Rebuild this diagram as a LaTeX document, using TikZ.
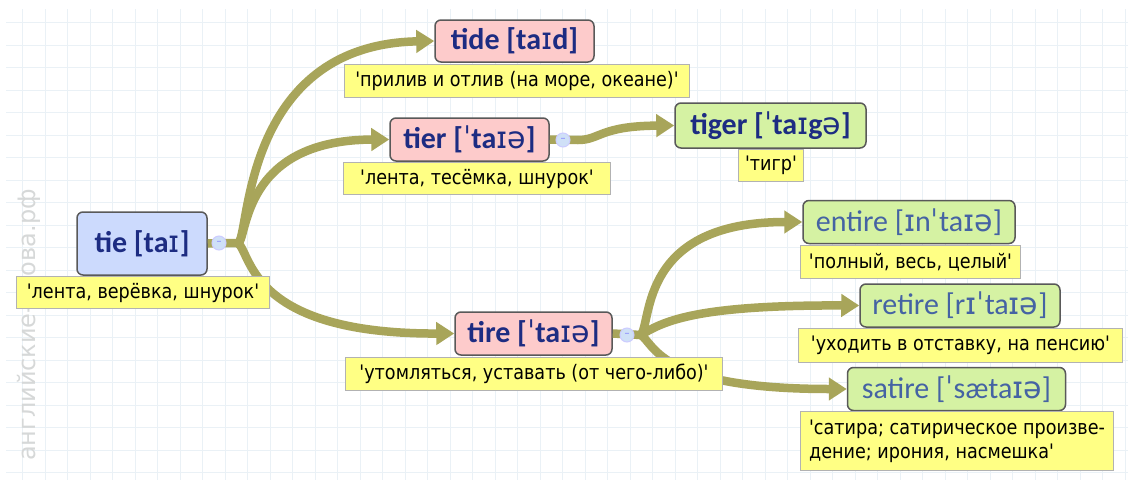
\documentclass[tikz,border=0pt]{standalone}
\usepackage{fontspec}
\setmainfont{DejaVu Sans}
\newfontfamily\headfont{Carlito}
\newfontfamily\ipafont{DejaVu Sans}
\newfontfamily\glossfont[FakeStretch=0.88]{DejaVu Sans}
\newcommand{\ip}[1]{{\ipafont\mdseries #1}}
\usetikzlibrary{arrows.meta}
\definecolor{linkol}{HTML}{A8A55A}
\definecolor{tieblue}{HTML}{CCDAFD}
\definecolor{rootpink}{HTML}{FDCBCB}
\definecolor{leafgreen}{HTML}{D5F2A3}
\definecolor{glossyel}{HTML}{FFFF84}
\definecolor{headnavy}{HTML}{1D2C82}
\definecolor{leafblue}{HTML}{4563A3}
\definecolor{gridcol}{HTML}{EAF1F6}
\definecolor{wmgray}{HTML}{D6D8D8}
\definecolor{knobfill}{HTML}{CFE0F7}

\begin{document}
\begin{tikzpicture}[x=1pt,y=-1pt,
  every node/.style={inner sep=0pt},
  word/.style={draw=black!65,line width=1.5pt,rounded corners=6pt,minimum height=43pt,
    font=\headfont\fontsize{30}{30}\selectfont\bfseries,text=headnavy},
  leaf/.style={word,fill=leafgreen,font=\headfont\fontsize{30}{30}\selectfont,text=leafblue},
  gloss/.style={draw=black!30,fill=glossyel,line width=1pt,anchor=north west,
    minimum height=33pt,font=\glossfont\fontsize{20}{24}\selectfont},
  knob/.style={circle,fill=knobfill,draw=blue!20,line width=1pt,minimum size=14pt,
    font=\ipafont\fontsize{10}{10}\selectfont,text=blue!50},
  link/.style={linkol,line width=8.5pt},
  tip/.style={-{Triangle[length=18pt,width=22pt]}}
]
  \useasboundingbox (0,0) rectangle (1128,480);
  \fill[white] (0,0) rectangle (1128,480);
  \draw[gridcol,line width=0.8pt,step=22.5pt] (6,480) grid (1128,9);
  \node[rotate=90,text=wmgray,font=\fontsize{24}{24}\selectfont] (mark) at (29,325) {английские-слова.рф};

  % junction points
  \coordinate (tiej) at (238,243);
  \coordinate (tierj) at (578,140);
  \coordinate (tirej) at (641,335);

  % words
  \node[word,fill=tieblue,minimum width=130pt,minimum height=63pt] (tie) at (142,243.5) {tie [ta\ip{ɪ}]};
  \node[word,fill=rootpink,minimum width=159pt,minimum height=42pt] (tide) at (514.5,41) {tide [ta\ip{ɪ}d]};
  \node[word,fill=rootpink,minimum width=159pt] (tier) at (469.5,139.5) {tier [\ip{ˈ}ta\ip{ɪə}]};
  \node[word,fill=rootpink,minimum width=157pt] (tire) at (533.5,333.5) {tire [\ip{ˈ}ta\ip{ɪə}]};
  \node[word,fill=leafgreen,minimum width=191pt,minimum height=45pt] (tiger) at (770.5,125.5) {tiger [\ip{ˈ}ta\ip{ɪ}g\ip{ə}]};
  \node[leaf,minimum width=212pt] (entire) at (909,222) {entire [\ip{ɪ}n\ip{ˈ}ta\ip{ɪə}]};
  \node[leaf,minimum width=200pt] (retire) at (960,305.5) {retire [r\ip{ɪˈ}ta\ip{ɪə}]};
  \node[leaf,minimum width=218pt] (satire) at (956.5,389) {satire [\ip{ˈ}sæta\ip{ɪə}]};

  % links
  \draw[link] (tie.east) -- (tiej);
  \draw[link,tip] (tiej) .. controls (250,240) and (240,45) .. (tide.west);
  \draw[link,tip] (tiej) .. controls (248,240) and (240,140) .. (tier.west);
  \draw[link,tip] (tiej) .. controls (252,255) and (250,334) .. (tire.west);
  \draw[link] (tier.east) -- (tierj);
  \draw[link,tip] (tierj) .. controls (600,140) and (600,126) .. (tiger.west);
  \draw[link] (tire.east) -- (tirej);
  \draw[link,tip] (tirej) .. controls (652,320) and (640,222) .. (entire.west);
  \draw[link,tip] (tirej) .. controls (665,320) and (700,305) .. (retire.west);
  \draw[link,tip] (tirej) .. controls (655,345) and (660,389) .. (satire.west);

  % knobs
  \node[knob] (tiek) at (219,243) {\textendash};
  \node[knob] (tierk) at (563,140) {\textendash};
  \node[knob] (tirek) at (627,335) {\textendash};

  % glosses
  \node[gloss,minimum width=253pt,minimum height=32pt] (tieg) at (16,276) {'лента, верёвка, шнурок'};
  \node[gloss,minimum width=345pt] (tideg) at (344,64) {'прилив и отлив (на море, океане)'};
  \node[gloss,minimum width=267pt,minimum height=32pt] (tierg) at (343,162) {'лента, тесёмка, шнурок'};
  \node[gloss,minimum width=65pt,minimum height=32pt] (tigerg) at (738,149) {'тигр'};
  \node[gloss,minimum width=377pt] (tireg) at (345,357) {'утомляться, уставать (от чего-либо)'};
  \node[gloss,minimum width=220pt] (entireg) at (800,245) {'полный, весь, целый'};
  \node[gloss,minimum width=324pt,minimum height=34pt] (retireg) at (798,328) {'уходить в отставку, на пенсию'};
  \node[gloss,minimum width=313pt,minimum height=59pt,align=left] (satireg) at (800,411)
    {'сатира; сатирическое произве-\\дение; ирония, насмешка'};
\end{tikzpicture}
\end{document}
